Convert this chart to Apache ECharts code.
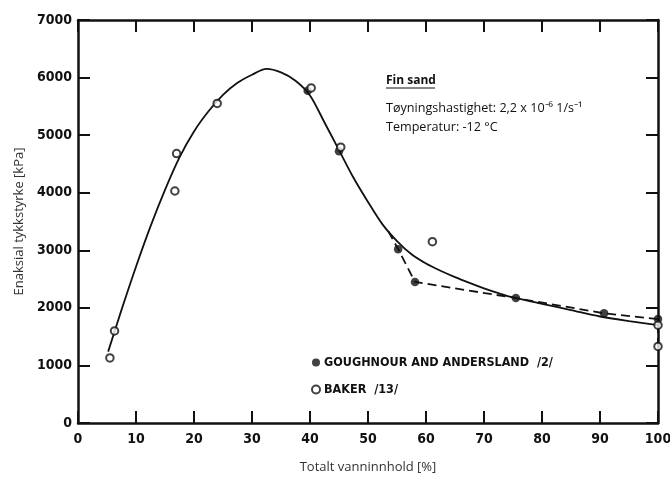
<!DOCTYPE html>
<html>
<head>
<meta charset="utf-8">
<script src="https://cdn.jsdelivr.net/npm/echarts@6/dist/echarts.min.js"></script>
<style>
  html, body { margin: 0; padding: 0; background: #fff; }
  #chart { width: 670px; height: 477px; }
</style>
</head>
<body>
<div id="chart"></div>
<script>
// Fitted strength curve (water content %, strength kPa)
const curveX = [5.2, 7.5, 10, 12.5, 15, 17.5, 20, 22.5, 25, 27.5, 30, 32.5, 35, 37.5, 40, 42.5, 45, 47.5, 50, 52.5, 55, 57.5, 60, 62.5, 65, 67.5, 70, 72.5, 75, 80, 85, 90, 95, 100];
const curveY = [1240, 1965, 2715, 3415, 4050, 4615, 5065, 5415, 5700, 5910, 6050, 6150, 6090, 5945, 5690, 5220, 4740, 4260, 3840, 3450, 3160, 2930, 2770, 2645, 2535, 2435, 2340, 2255, 2180, 2070, 1960, 1850, 1770, 1700];

// Dashed line through the Goughnour & Andersland results
const dashedX = [53.5, 55.2, 58.1, 75.5, 90.7, 100, 100];
const dashedY = [3330, 3020, 2450, 2170, 1905, 1805, 1330];

// Measured points
const goughnourX = [39.6, 45.0, 55.2, 58.1, 75.5, 90.7, 100];
const goughnourY = [5770, 4720, 3020, 2450, 2170, 1905, 1805];
const bakerX = [5.5, 6.3, 16.7, 17.0, 24.0, 40.2, 45.3, 61.1, 100, 100];
const bakerY = [1130, 1600, 4030, 4680, 5550, 5820, 4790, 3150, 1700, 1330];

const seriesNames = ['GOUGHNOUR AND ANDERSLAND  /2/', 'BAKER  /13/'];
const xTitle = 'Totalt vanninnhold [%]';
const yTitle = 'Enaksial tykkstyrke [kPa]';

const pairs = (xs, ys) => xs.map((x, i) => [x, ys[i]]);

const condFamily = '"DejaVu Sans Condensed", "DejaVu Sans", sans-serif';
const tickFont = {
  fontFamily: condFamily,
  fontWeight: 'bold condensed',
  fontSize: 14,
  color: '#111'
};
const axisLine = { show: true, onZero: false, lineStyle: { color: '#111', width: 2.5 } };
const tickIn = { show: true, inside: true, length: 12, lineStyle: { color: '#111', width: 2 } };
const titleFont = { fontFamily: '"Open Sans", sans-serif', fontSize: 13, color: '#333' };

const chart = echarts.init(document.getElementById('chart'), null, { renderer: 'canvas' });

chart.setOption({
  animation: false,
  backgroundColor: '#fff',
  grid: { left: 78, right: 12, top: 20, bottom: 54, containLabel: false, outerBoundsMode: 'none' },
  xAxis: [
    {
      type: 'value', min: 0, max: 100, interval: 10, position: 'bottom',
      axisLine, axisTick: tickIn, splitLine: { show: false },
      axisLabel: Object.assign({ margin: 9 }, tickFont),
      name: xTitle, nameLocation: 'middle', nameGap: 38, nameTextStyle: titleFont
    },
    {
      type: 'value', min: 0, max: 100, interval: 10, position: 'top',
      axisLine, axisTick: tickIn, splitLine: { show: false }, axisLabel: { show: false }
    }
  ],
  yAxis: [
    {
      type: 'value', min: 0, max: 7000, interval: 1000, position: 'left',
      axisLine, axisTick: tickIn, splitLine: { show: false },
      axisLabel: Object.assign({ margin: 6, formatter: v => String(v) }, tickFont),
      name: yTitle, nameLocation: 'middle', nameGap: 49, nameRotate: 90, nameTextStyle: titleFont
    },
    {
      type: 'value', min: 0, max: 7000, interval: 1000, position: 'right',
      axisLine, axisTick: tickIn, splitLine: { show: false }, axisLabel: { show: false }
    }
  ],
  legend: {
    orient: 'vertical', left: 311, top: 355, itemGap: 12,
    itemWidth: 8, itemHeight: 8, padding: 0,
    data: seriesNames,
    textStyle: {
      fontFamily: condFamily, fontWeight: 'bold condensed',
      fontSize: 12.5, lineHeight: 15, color: '#111', padding: [0, 0, 0, -1]
    }
  },
  graphic: [
    {
      type: 'text', left: 386, top: 75,
      style: { text: 'Fin sand', fontFamily: '"Open Sans", sans-serif', fontWeight: 'bold', fontSize: 12, fill: '#111' }
    },
    {
      type: 'line', shape: { x1: 386, y1: 88, x2: 435, y2: 88 },
      style: { stroke: '#111', lineWidth: 1 }
    },
    {
      type: 'text', left: 386, top: 102,
      style: { text: 'Tøyningshastighet: 2,2 x 10⁻⁶ 1/s⁻¹', fontFamily: '"Open Sans", sans-serif', fontSize: 12.6, fill: '#111' }
    },
    {
      type: 'text', left: 386, top: 121,
      style: { text: 'Temperatur: -12 °C', fontFamily: '"Open Sans", sans-serif', fontSize: 12.6, fill: '#111' }
    }
  ],
  series: [
    {
      type: 'line', data: pairs(curveX, curveY), smooth: 0.3, symbol: 'none',
      lineStyle: { color: '#111', width: 1.8 }, z: 2, silent: true
    },
    {
      type: 'line', data: pairs(dashedX, dashedY), smooth: false, symbol: 'none',
      lineStyle: { color: '#111', width: 1.8, type: [9, 5] }, z: 2, silent: true
    },
    {
      name: seriesNames[0], type: 'scatter', data: pairs(goughnourX, goughnourY),
      symbol: 'circle', symbolSize: 8.5, itemStyle: { color: '#111' }, z: 4
    },
    {
      name: seriesNames[1], type: 'scatter', data: pairs(bakerX, bakerY),
      symbol: 'emptyCircle', symbolSize: 7.5,
      itemStyle: { color: '#111', borderColor: '#111', borderWidth: 1.4 }, z: 5
    }
  ]
});
</script>
</body>
</html>
